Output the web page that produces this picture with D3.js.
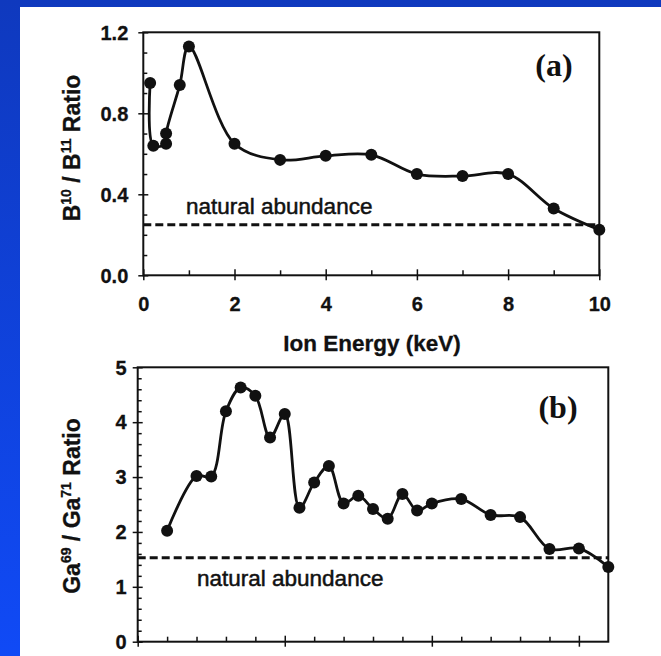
<!DOCTYPE html>
<html><head><meta charset="utf-8">
<script src="https://cdn.jsdelivr.net/npm/d3@7"></script>
<style>html,body{margin:0;padding:0;overflow:hidden;background:#fff}</style>
</head><body>
<svg id="c" width="661" height="656"></svg>
<script>
// ---- Panel (a): B10/B11 ratio vs ion energy (keV)
const energyA = [0.15, 0.22, 0.5, 0.5, 0.8, 1.0, 2, 3, 4, 5, 6, 7, 8, 9, 10];
const ratioA  = [0.95, 0.64, 0.65, 0.70, 0.94, 1.13, 0.65, 0.57, 0.59, 0.595, 0.50, 0.49, 0.50, 0.33, 0.225];
const naturalA = 0.25;
const yTicksA = [0, 0.4, 0.8, 1.2];
const xTicksA = [0, 2, 4, 6, 8, 10];

// ---- Panel (b): Ga69/Ga71 ratio
const energyB = [1, 2, 2.5, 3, 3.5, 4, 4.5, 5, 5.5, 6, 6.5, 7, 7.5, 8, 8.5, 9, 9.5, 10, 11, 12, 13, 14, 15, 16];
const ratioB  = [2.02, 3.02, 3.01, 4.2, 4.63, 4.48, 3.72, 4.15, 2.44, 2.9, 3.2, 2.52, 2.66, 2.42, 2.24, 2.69, 2.39, 2.52, 2.6, 2.31, 2.27, 1.69, 1.70, 1.36];
const naturalB = 1.53;
const yTicksB = [0, 1, 2, 3, 4, 5];
const xTicksB = [0, 5, 10, 15];

const SANS = "'Liberation Sans', Arial, sans-serif";
const SERIF = "'Liberation Serif', 'Times New Roman', serif";
const INK = "#111";

const svg = d3.select("#c");
const defs = svg.append("defs");
const grad = defs.append("linearGradient").attr("id","bg").attr("x1",0).attr("y1",0).attr("x2",0).attr("y2",1);
grad.append("stop").attr("offset","0%").attr("stop-color","#0f39be");
grad.append("stop").attr("offset","100%").attr("stop-color","#104af6");
svg.append("rect").attr("width",661).attr("height",656).attr("fill","url(#bg)");
svg.append("rect").attr("x",20).attr("y",7).attr("width",641).attr("height",649).attr("fill","#fff");

function panel(cfg){
  const g = svg.append("g");
  const x = d3.scaleLinear().domain(cfg.xDomain).range([cfg.left, cfg.right]);
  const y = d3.scaleLinear().domain(cfg.yDomain).range([cfg.bottom, cfg.top]);

  // minor ticks (inward)
  g.append("g").attr("transform",`translate(${cfg.left},0)`)
    .call(d3.axisLeft(y).tickValues(cfg.yMinor).tickSize(-4).tickFormat(""))
    .call(s=>s.select(".domain").remove())
    .selectAll("line").attr("stroke",INK).attr("stroke-width",1.5);
  g.append("g").attr("transform",`translate(0,${cfg.bottom})`)
    .call(d3.axisBottom(x).tickValues(cfg.xMinor).tickSize(-5).tickFormat(""))
    .call(s=>s.select(".domain").remove())
    .selectAll("line").attr("stroke",INK).attr("stroke-width",1.5);

  // major y ticks (crossing) + labels
  const ya = g.append("g").attr("transform",`translate(${cfg.left},0)`)
    .call(d3.axisLeft(y).tickValues(cfg.yTicks).tickSize(5).tickPadding(cfg.yPad).tickFormat(cfg.yFmt));
  ya.select(".domain").remove();
  ya.selectAll("line").attr("x1",5).attr("stroke",INK).attr("stroke-width",1.5);
  ya.selectAll("text").attr("font-family",SANS).attr("font-size",20).attr("font-weight","bold")
    .attr("fill",INK).attr("stroke",INK).attr("stroke-width",0.3).attr("dy","0.34em");

  // major x ticks (crossing) + labels
  const xa = g.append("g").attr("transform",`translate(0,${cfg.bottom})`)
    .call(d3.axisBottom(x).tickValues(cfg.xTicks).tickSize(5).tickPadding(17).tickFormat(cfg.xFmt));
  xa.select(".domain").remove();
  xa.selectAll("line").attr("y1",-6).attr("stroke",INK).attr("stroke-width",1.5);
  xa.selectAll("text").attr("font-family",SANS).attr("font-size",20).attr("font-weight","bold")
    .attr("fill",INK).attr("stroke",INK).attr("stroke-width",0.3);

  // frame
  g.append("rect").attr("x",cfg.left).attr("y",cfg.top)
    .attr("width",cfg.right-cfg.left).attr("height",cfg.bottom-cfg.top)
    .attr("fill","none").attr("stroke",INK).attr("stroke-width",2);

  // natural abundance
  g.append("line").attr("x1",x(cfg.xDomain[0])).attr("x2",x(cfg.xDomain[1]))
    .attr("y1",y(cfg.natural)).attr("y2",y(cfg.natural))
    .attr("stroke",INK).attr("stroke-width",3).attr("stroke-dasharray","8,4");
  g.append("text").attr("x",cfg.natX).attr("y",cfg.natY)
    .attr("font-family",SANS).attr("font-size",22.5).attr("fill",INK)
    .attr("stroke",INK).attr("stroke-width",0.5)
    .text("natural abundance");

  // data
  const pts = cfg.xs.map((v,i)=>[v,cfg.ys[i]]);
  g.append("path").datum(pts)
    .attr("d", d3.line().x(d=>x(d[0])).y(d=>y(d[1])).curve(d3.curveCatmullRom.alpha(0.5)))
    .attr("fill","none").attr("stroke",INK).attr("stroke-width",2.8);
  g.selectAll("circle.pt").data(pts).join("circle").attr("class","pt")
    .attr("cx",d=>x(d[0])).attr("cy",d=>y(d[1])).attr("r",6).attr("fill",INK);

  // panel label
  g.append("text").attr("x",cfg.labX).attr("y",cfg.labY).attr("text-anchor","middle")
    .attr("font-family",SERIF).attr("font-weight","bold").attr("font-size",32).attr("fill",INK)
    .text(cfg.label);

  // y title
  const t = g.append("text").attr("transform",`translate(80,${cfg.titleY}) rotate(-90)`)
    .attr("text-anchor","middle").attr("font-family",SANS).attr("font-weight","bold")
    .attr("font-size",23).attr("fill",INK).attr("stroke",INK).attr("stroke-width",0.3);
  t.append("tspan").text(cfg.t[0]);
  t.append("tspan").attr("font-size",14).attr("dy",-9).text(cfg.t[1]);
  t.append("tspan").attr("dy",9).text(cfg.t[2]);
  t.append("tspan").attr("font-size",14).attr("dy",-9).text(cfg.t[3]);
  t.append("tspan").attr("dy",9).text(cfg.t[4]);
  return {x,y};
}

panel({
  xDomain:[0,10], yDomain:[0,1.2], left:143.3, right:599.3, top:32.3, bottom:275.3,
  xTicks:xTicksA, yTicks:yTicksA, xMinor:[1,3,5,7,9], yMinor:[0.1,0.2,0.3,0.5,0.6,0.7,0.9,1.0,1.1],
  yFmt:d3.format(".1f"), xFmt:d3.format("d"), yPad:10,
  natural:naturalA, natX:186, natY:214,
  xs:energyA, ys:ratioA, label:"(a)", labX:554, labY:76,
  titleY:148, t:["B","10"," / B","11"," Ratio"]
});

panel({
  xDomain:[0,16], yDomain:[0,5], left:137.7, right:608.3, top:367.3, bottom:641.7,
  xTicks:xTicksB, yTicks:yTicksB, xMinor:d3.range(1,16).filter(v=>v%5!==0),
  yMinor:d3.range(0,5.01,0.2).map(v=>+v.toFixed(1)).filter(v=>Math.abs(v-Math.round(v))>1e-6),
  yFmt:d3.format("d"), xFmt:()=>"", yPad:6,
  natural:naturalB, natX:197, natY:586,
  xs:energyB, ys:ratioB, label:"(b)", labX:558, labY:418,
  titleY:506, t:["Ga","69"," / Ga","71"," Ratio"]
});

// shared x-axis title
svg.append("text").attr("x",372).attr("y",351).attr("text-anchor","middle")
  .attr("font-family",SANS).attr("font-weight","bold").attr("font-size",22.5).attr("fill",INK)
  .attr("stroke",INK).attr("stroke-width",0.3)
  .text("Ion Energy (keV)");
</script>
</body></html>
